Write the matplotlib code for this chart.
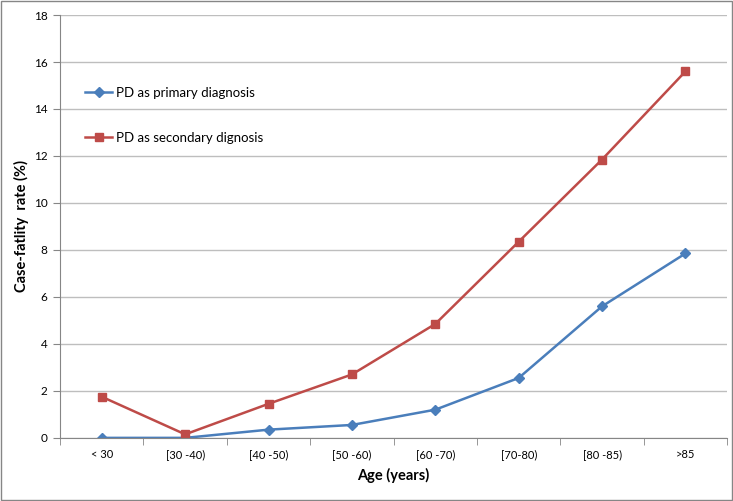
import matplotlib.pyplot as plt
import matplotlib.patches as mpatches
import numpy as np

plt.rcParams['font.family'] = ['Lato', 'DejaVu Sans']

# Données
categories = ['< 30', '[30 -40)', '[40 -50)', '[50 -60)', '[60 -70)', '[70-80)', '[80 -85)', '>85']
primary = [0.0, 0.0, 0.35, 0.55, 1.2, 2.55, 5.6, 7.85]
secondary = [1.75, 0.15, 1.45, 2.7, 4.85, 8.35, 11.85, 15.6]

fig = plt.figure(figsize=(7.33, 5.01), dpi=100)
ax = fig.add_axes([0.082, 0.126, 0.910, 0.844])

x = np.arange(len(categories))
ax.plot(x, primary, color='#4A7EBB', marker='D', markersize=5, linewidth=1.8,
        label='PD as primary diagnosis')
ax.plot(x, secondary, color='#BE4B48', marker='s', markersize=6, linewidth=1.8,
        label='PD as secondary dignosis')

# Axes
ax.set_xlim(-0.5, len(categories) - 0.5)
ax.set_ylim(0, 18)
ax.set_yticks(np.arange(0, 19, 2))
ax.set_xticks(x)
ax.set_xticklabels(categories, fontsize=8)
ax.set_xticks(np.arange(-0.5, len(categories), 1), minor=True)
ax.tick_params(axis='x', which='major', length=0, pad=8)
ax.tick_params(axis='x', which='minor', length=5, color='#868686', direction='out')
ax.tick_params(axis='y', length=5, color='#868686', labelsize=8.5, pad=4)
ax.grid(axis='y', color='#BEBEBE', linewidth=1)
ax.set_axisbelow(True)
for s in ['top', 'right']:
    ax.spines[s].set_visible(False)
for s in ['left', 'bottom']:
    ax.spines[s].set_color('#868686')

ax.set_xlabel('Age (years)', fontsize=10.5, fontweight='bold', labelpad=6)
ax.set_ylabel('Case-fatlity  rate (%)', fontsize=10.5, fontweight='bold')
ax.yaxis.set_label_coords(-0.047, 0.5)

leg = ax.legend(loc='upper left', bbox_to_anchor=(0.03, 0.842), frameon=False,
                fontsize=9.5, labelspacing=2.5, handlelength=2.0, handletextpad=0.3,
                borderaxespad=0)

# Cadre extérieur
fig.patches.append(mpatches.Rectangle((0.002, 0.002), 0.996, 0.996, transform=fig.transFigure,
                                      fill=False, edgecolor='#868686', linewidth=1))

plt.savefig('out.png', dpi=100)
